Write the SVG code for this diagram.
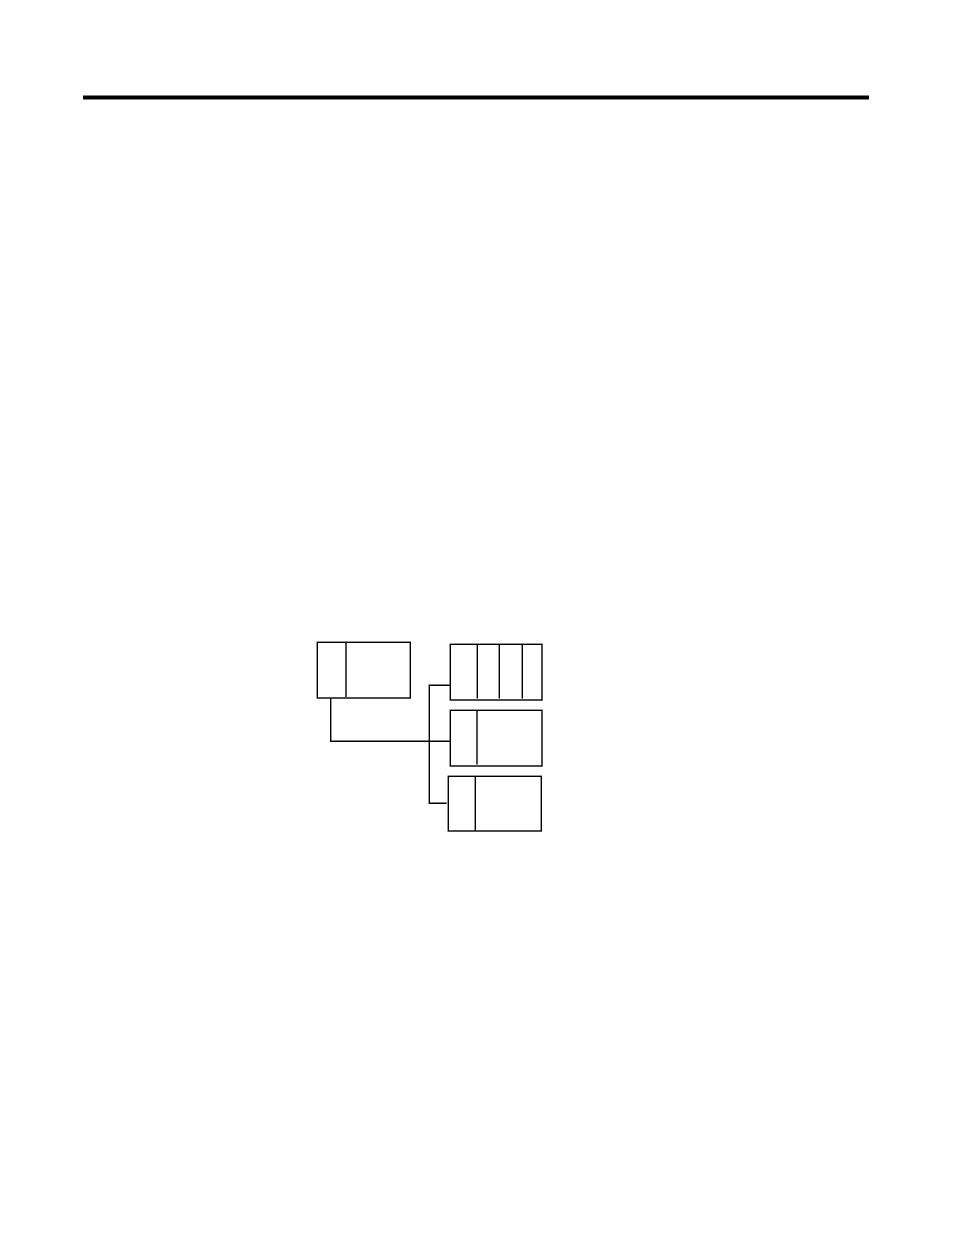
<svg xmlns="http://www.w3.org/2000/svg" width="954" height="1235" viewBox="0 0 954 1235">
<style>
.box{fill:#fff;stroke:#000;stroke-width:1.4}
.div{stroke:#000;stroke-width:1.4}
.conn{fill:none;stroke:#000;stroke-width:1.4}
</style>
<rect width="954" height="1235" fill="#fff"/>
<rect x="83" y="95.5" width="786" height="4" fill="#000"/>
<g id="connectors">
<polyline class="conn" points="330.7,698 330.7,741.3 450.3,741.3"/>
<polyline class="conn" points="450.3,685.3 429.3,685.3 429.3,803.3 446.7,803.3"/>
</g>
<g id="nodeA">
<rect class="box" x="317.3" y="642.3" width="93" height="55.7"/>
<line class="div" x1="346" y1="642.3" x2="346" y2="697"/>
</g>
<g id="nodeB1">
<rect class="box" x="450.3" y="644.3" width="91.7" height="55.7"/>
<line class="div" x1="477.3" y1="644.3" x2="477.3" y2="698.5"/>
<line class="div" x1="499.3" y1="644.3" x2="499.3" y2="698.5"/>
<line class="div" x1="522.3" y1="644.3" x2="522.3" y2="698.5"/>
</g>
<g id="nodeB2">
<rect class="box" x="450.3" y="710.3" width="91.7" height="55.7"/>
<line class="div" x1="477" y1="710.3" x2="477" y2="764.5"/>
</g>
<g id="nodeB3">
<rect class="box" x="448.3" y="776.3" width="93" height="54.7"/>
<line class="div" x1="475.3" y1="776.3" x2="475.3" y2="831"/>
</g>
</svg>
